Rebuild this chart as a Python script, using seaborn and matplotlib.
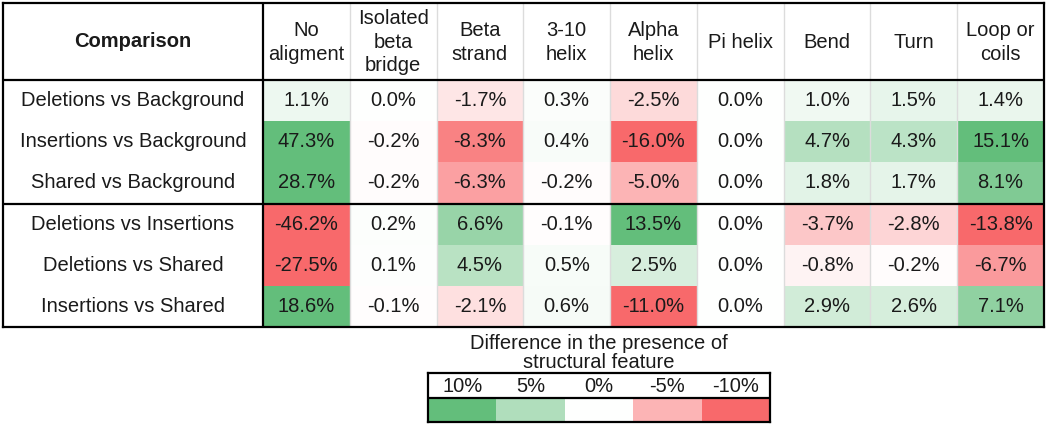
import numpy as np
import matplotlib.pyplot as plt
import seaborn as sns
from matplotlib.colors import LinearSegmentedColormap

# datos de la tabla
comparisons = ["Deletions vs Background", "Insertions vs Background", "Shared vs Background",
               "Deletions vs Insertions", "Deletions vs Shared", "Insertions vs Shared"]
features = ["No\naligment", "Isolated\nbeta\nbridge", "Beta\nstrand", "3-10\nhelix", "Alpha\nhelix",
            "Pi helix", "Bend", "Turn", "Loop or\ncoils"]
del_bg = [1.1, 0.0, -1.7, 0.3, -2.5, 0.0, 1.0, 1.5, 1.4]
ins_bg = [47.3, -0.2, -8.3, 0.4, -16.0, 0.0, 4.7, 4.3, 15.1]
sha_bg = [28.7, -0.2, -6.3, -0.2, -5.0, 0.0, 1.8, 1.7, 8.1]
del_ins = [-46.2, 0.2, 6.6, -0.1, 13.5, 0.0, -3.7, -2.8, -13.8]
del_sha = [-27.5, 0.1, 4.5, 0.5, 2.5, 0.0, -0.8, -0.2, -6.7]
ins_sha = [18.6, -0.1, -2.1, 0.6, -11.0, 0.0, 2.9, 2.6, 7.1]
legend_vals = [10, 5, 0, -5, -10]
legend_labels = ["10%", "5%", "0%", "-5%", "-10%"]

sns.set_style("white")
plt.rcParams['font.family'] = ['Liberation Sans', 'DejaVu Sans']
FS = 14.5
TXT = "#1a1a1a"

cmap = LinearSegmentedColormap.from_list("rwg", ["#F8696B", "#FFFFFF", "#63BE7B"])
data = np.array([del_bg, ins_bg, sha_bg, del_ins, del_sha, ins_sha])
annot = np.array([[f"{v:.1f}%" for v in row] for row in data])

W, H = 1050, 424
fig = plt.figure(figsize=(10.5, 4.24), dpi=100)

def px_axes(x0, y0, x1, y1):
    return fig.add_axes([x0 / W, 1 - y1 / H, (x1 - x0) / W, (y1 - y0) / H])

# tabla principal
ax = px_axes(3, 3, 1044, 327)
sns.heatmap(data, ax=ax, cmap=cmap, vmin=-10, vmax=10, annot=annot, fmt="", cbar=False,
            xticklabels=False, yticklabels=False,
            annot_kws={"color": TXT, "fontsize": FS})
colw = 781 / 9
rowh = 247 / 6
xl = -260 / colw
yt = -77 / rowh
ax.set_xlim(xl, 9)
ax.set_ylim(6, yt)
for s in ax.spines.values():
    s.set_visible(True)
    s.set_color("black")
    s.set_linewidth(1.6)

for i in range(1, 9):
    ax.plot([i, i], [yt, 6], color="#dcdcdc", lw=1, zorder=1)
ax.plot([0, 0], [yt, 6], color="black", lw=1.6)
ax.plot([xl, 9], [0, 0], color="black", lw=1.6)
ax.plot([xl, 9], [3, 3], color="black", lw=1.6)

ax.text(xl / 2, yt / 2, "Comparison", ha="center", va="center", fontsize=FS, fontweight="bold", color=TXT)
for j, f in enumerate(features):
    ax.text(j + 0.5, yt / 2 + 0.02, f, ha="center", va="center", fontsize=FS, linespacing=1.3, color=TXT)
for i, c in enumerate(comparisons):
    ax.text(xl / 2, i + 0.5, c, ha="center", va="center", fontsize=FS, color=TXT)

# leyenda
lax = px_axes(428, 373, 770, 422)
sns.heatmap(np.array([legend_vals]), ax=lax, cmap=cmap, vmin=-10, vmax=10, cbar=False,
            xticklabels=False, yticklabels=False)
lax.set_xlim(0, 5)
lax.set_ylim(1, -25 / 24)
for s in lax.spines.values():
    s.set_visible(True)
    s.set_color("black")
    s.set_linewidth(1.6)
lax.plot([0, 5], [0, 0], color="black", lw=1.6)
for j, lab in enumerate(legend_labels):
    lax.text(j + 0.5, -0.5, lab, ha="center", va="center", fontsize=FS, color=TXT)

fig.text(599 / W, 1 - 353 / H, "Difference in the presence of\nstructural feature",
         ha="center", va="center", fontsize=FS, linespacing=1.05, color=TXT)

fig.savefig("out.png", dpi=100)
